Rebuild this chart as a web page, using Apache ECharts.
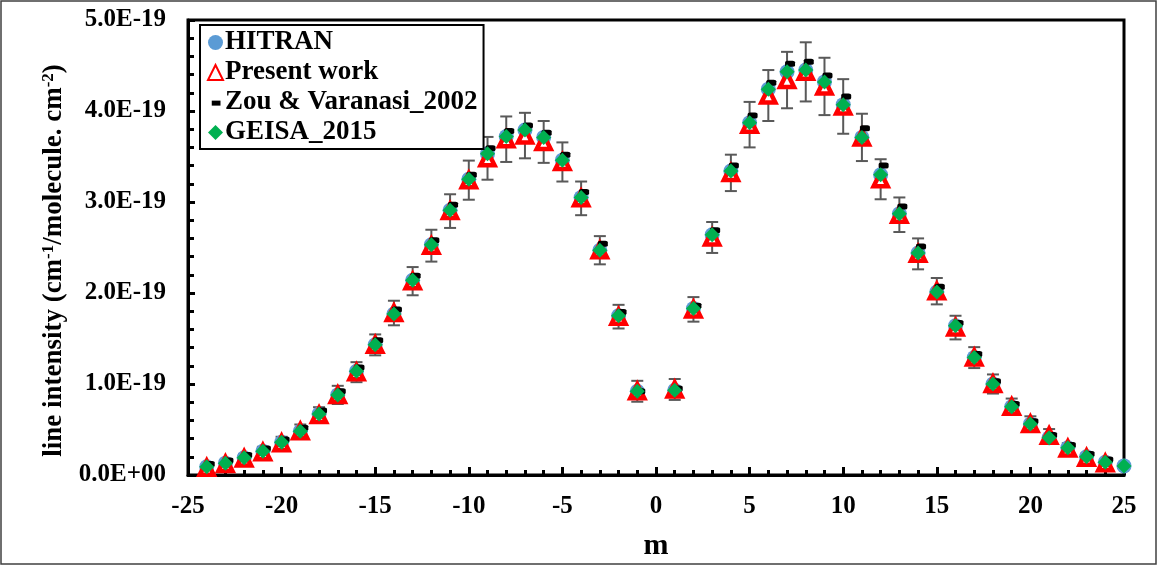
<!DOCTYPE html>
<html>
<head>
<meta charset="utf-8">
<script src="https://cdn.jsdelivr.net/npm/echarts@6/dist/echarts.min.js"></script>
<style>
html, body { margin: 0; padding: 0; background: #fff; }
#chart { width: 1158px; height: 566px; }
</style>
</head>
<body>
<div id="chart"></div>
<script>
// values are in units of 1E-19 cm-1/(molecule cm-2)
var mHitran = [-24,-23,-22,-21,-20,-19,-18,-17,-16,-15,-14,-13,-12,-11,-10,-9,-8,-7,-6,-5,-4,-3,-2,-1,
	1,2,3,4,5,6,7,8,9,10,11,12,13,14,15,16,17,18,19,20,21,22,23,24,25];
var hitran = [0.09,0.13,0.19,0.26,0.36,0.48,0.67,0.88,1.14,1.43,1.77,2.14,2.53,2.91,3.25,3.53,3.72,3.79,3.71,3.46,3.05,2.47,1.75,0.92,
	0.93,1.83,2.64,3.34,3.87,4.24,4.43,4.45,4.32,4.07,3.71,3.30,2.87,2.44,2.01,1.64,1.29,1.00,0.75,0.56,0.41,0.30,0.20,0.14,0.10];
var geisa = [0.09,0.13,0.19,0.26,0.36,0.48,0.67,0.88,1.14,1.43,1.77,2.14,2.53,2.91,3.25,3.53,3.72,3.79,3.71,3.46,3.05,2.47,1.75,0.92,
	0.93,1.83,2.64,3.34,3.87,4.24,4.43,4.45,4.32,4.07,3.71,3.30,2.87,2.44,2.01,1.64,1.29,1.00,0.75,0.56,0.41,0.30,0.20,0.14,0.10];

var mPresent = [-24,-23,-22,-21,-20,-19,-18,-17,-16,-15,-14,-13,-12,-11,-10,-9,-8,-7,-6,-5,-4,-3,-2,-1,
	1,2,3,4,5,6,7,8,9,10,11,12,13,14,15,16,17,18,19,20,21,22,23,24];
var present = [0.08,0.12,0.18,0.25,0.35,0.48,0.66,0.88,1.13,1.43,1.78,2.13,2.52,2.90,3.24,3.48,3.69,3.73,3.66,3.44,3.04,2.47,1.74,0.92,
	0.94,1.82,2.61,3.32,3.85,4.17,4.34,4.43,4.27,4.05,3.71,3.25,2.86,2.43,2.02,1.62,1.29,1.00,0.75,0.56,0.43,0.29,0.19,0.13];
var presentErr = [0.04,0.045,0.05,0.06,0.07,0.075,0.085,0.10,0.11,0.115,0.135,0.155,0.175,0.185,0.215,0.235,0.25,0.25,0.23,0.215,0.185,0.155,0.13,0.115,
	0.115,0.135,0.17,0.20,0.25,0.28,0.31,0.325,0.315,0.30,0.26,0.22,0.19,0.17,0.145,0.13,0.115,0.105,0.09,0.085,0.075,0.06,0.05,0.045];

var zou = [0.12,0.16,0.22,0.29,0.39,0.52,0.71,0.92,1.18,1.48,1.82,2.19,2.58,2.97,3.30,3.59,3.78,3.84,3.76,3.52,3.11,2.54,1.79,0.92,
	0.95,1.86,2.69,3.40,3.95,4.31,4.52,4.54,4.39,4.16,3.81,3.40,2.95,2.51,2.07,1.67,1.33,1.03,0.78,0.59,0.44,0.33,0.23,0.17];

var xTicks = [-25, 25, 5];
var yTicks = [0, 5, 1];

var FONT = '"Liberation Serif", "Times New Roman", serif';

function pairs(xs, ys) {
	return ys.map(function (v, i) { return [xs[i], v]; });
}

var chart = echarts.init(document.getElementById('chart'));

var option = {
	animation: false,
	backgroundColor: '#fff',
	graphic: [{
		type: 'rect',
		shape: { x: 1, y: 1, width: 1155, height: 563 },
		style: { fill: 'none', stroke: '#404040', lineWidth: 1.5 },
		silent: true
	}],
	grid: {
		left: 188, right: 34, top: 20, bottom: 89,
		show: true, borderColor: '#000', borderWidth: 3
	},
	legend: {
		orient: 'vertical',
		left: 200, top: 25,
		padding: [4, 6, 3, 7],
		borderColor: '#000', borderWidth: 2,
		backgroundColor: '#fff',
		itemWidth: 15, itemHeight: 15, itemGap: 3,
		symbolKeepAspect: true,
		textStyle: { fontFamily: FONT, fontWeight: 'bold', fontSize: 27, color: '#000', padding: [0, 0, 0, -3] },
		data: [
			{ name: 'HITRAN', icon: 'circle' },
			{ name: 'Present work', icon: 'triangle' },
			{ name: 'Zou & Varanasi_2002', icon: 'path://M0,0 M12,12 M3,4.5 L10,4.5 L10,8.5 L3,8.5 Z' },
			{ name: 'GEISA_2015', icon: 'diamond' }
		]
	},
	xAxis: {
		type: 'value',
		min: xTicks[0], max: xTicks[1], interval: xTicks[2],
		name: 'm', nameLocation: 'middle', nameGap: 56,
		nameTextStyle: { fontFamily: FONT, fontWeight: 'bold', fontSize: 30, color: '#000' },
		axisLine: { onZero: false, lineStyle: { color: '#000', width: 3 } },
		axisTick: { inside: true, length: 8, lineStyle: { color: '#000', width: 3 } },
		minorTick: { show: true, splitNumber: 5, length: 5, lineStyle: { color: '#000', width: 3 } },
		splitLine: { show: false },
		axisLabel: { fontFamily: FONT, fontWeight: 'bold', fontSize: 25, color: '#000', margin: 19 }
	},
	yAxis: {
		type: 'value',
		min: yTicks[0], max: yTicks[1], interval: yTicks[2],
		name: 'line intensity (cm{sup|-1}/molecule. cm{sup|-2})',
		nameLocation: 'middle', nameGap: 118, nameRotate: 90,
		nameTextStyle: {
			fontFamily: FONT, fontWeight: 'bold', fontSize: 27, color: '#000',
			padding: [0, 26, 0, 0],
			rich: { sup: { fontFamily: FONT, fontWeight: 'bold', fontSize: 17, color: '#000', padding: [0, 0, 12, 0] } }
		},
		axisLine: { show: true, onZero: false, lineStyle: { color: '#000', width: 3 } },
		axisTick: { show: true, inside: true, length: 7, lineStyle: { color: '#000', width: 3 } },
		minorTick: { show: true, splitNumber: 5, length: 6, lineStyle: { color: '#000', width: 3 } },
		splitLine: { show: false },
		axisLabel: {
			fontFamily: FONT, fontWeight: 'bold', fontSize: 25, color: '#000', margin: 22,
			formatter: function (v) { return v === 0 ? '0.0E+00' : v.toFixed(1) + 'E-19'; }
		}
	},
	series: [{
		name: 'HITRAN', type: 'scatter', symbol: 'circle', symbolSize: 15,
		itemStyle: { color: '#5B9BD5', opacity: 1 },
		data: pairs(mHitran, hitran)
	}, {
		name: 'Present work', type: 'scatter', symbol: 'triangle', symbolSize: 14,
		itemStyle: { color: '#fff', borderColor: '#FF0000', borderWidth: 4.5, opacity: 1 },
		data: pairs(mPresent, present)
	}, {
		name: 'error', type: 'custom',
		renderItem: function (params, api) {
			var x = api.value(0), y = api.value(1), e = api.value(2);
			var hi = api.coord([x, y + e]), lo = api.coord([x, y - e]);
			var w = 6;
			var st = { stroke: '#595959', lineWidth: 2 };
			return {
				type: 'group',
				children: [
					{ type: 'line', shape: { x1: hi[0], y1: hi[1], x2: lo[0], y2: lo[1] }, style: st },
					{ type: 'line', shape: { x1: hi[0] - w, y1: hi[1], x2: hi[0] + w, y2: hi[1] }, style: st },
					{ type: 'line', shape: { x1: lo[0] - w, y1: lo[1], x2: lo[0] + w, y2: lo[1] }, style: st }
				]
			};
		},
		data: present.map(function (v, i) { return [mPresent[i], v, presentErr[i]]; })
	}, {
		name: 'Zou & Varanasi_2002', type: 'scatter', symbol: 'roundRect', symbolSize: [10, 6],
		symbolOffset: [3, 0],
		itemStyle: { color: '#000', opacity: 1 },
		data: pairs(mPresent, zou)
	}, {
		name: 'GEISA_2015', type: 'scatter', symbol: 'diamond', symbolSize: 15,
		itemStyle: { color: '#00B050', opacity: 1 },
		data: pairs(mHitran, geisa)
	}]
};

chart.setOption(option);
</script>
</body>
</html>
